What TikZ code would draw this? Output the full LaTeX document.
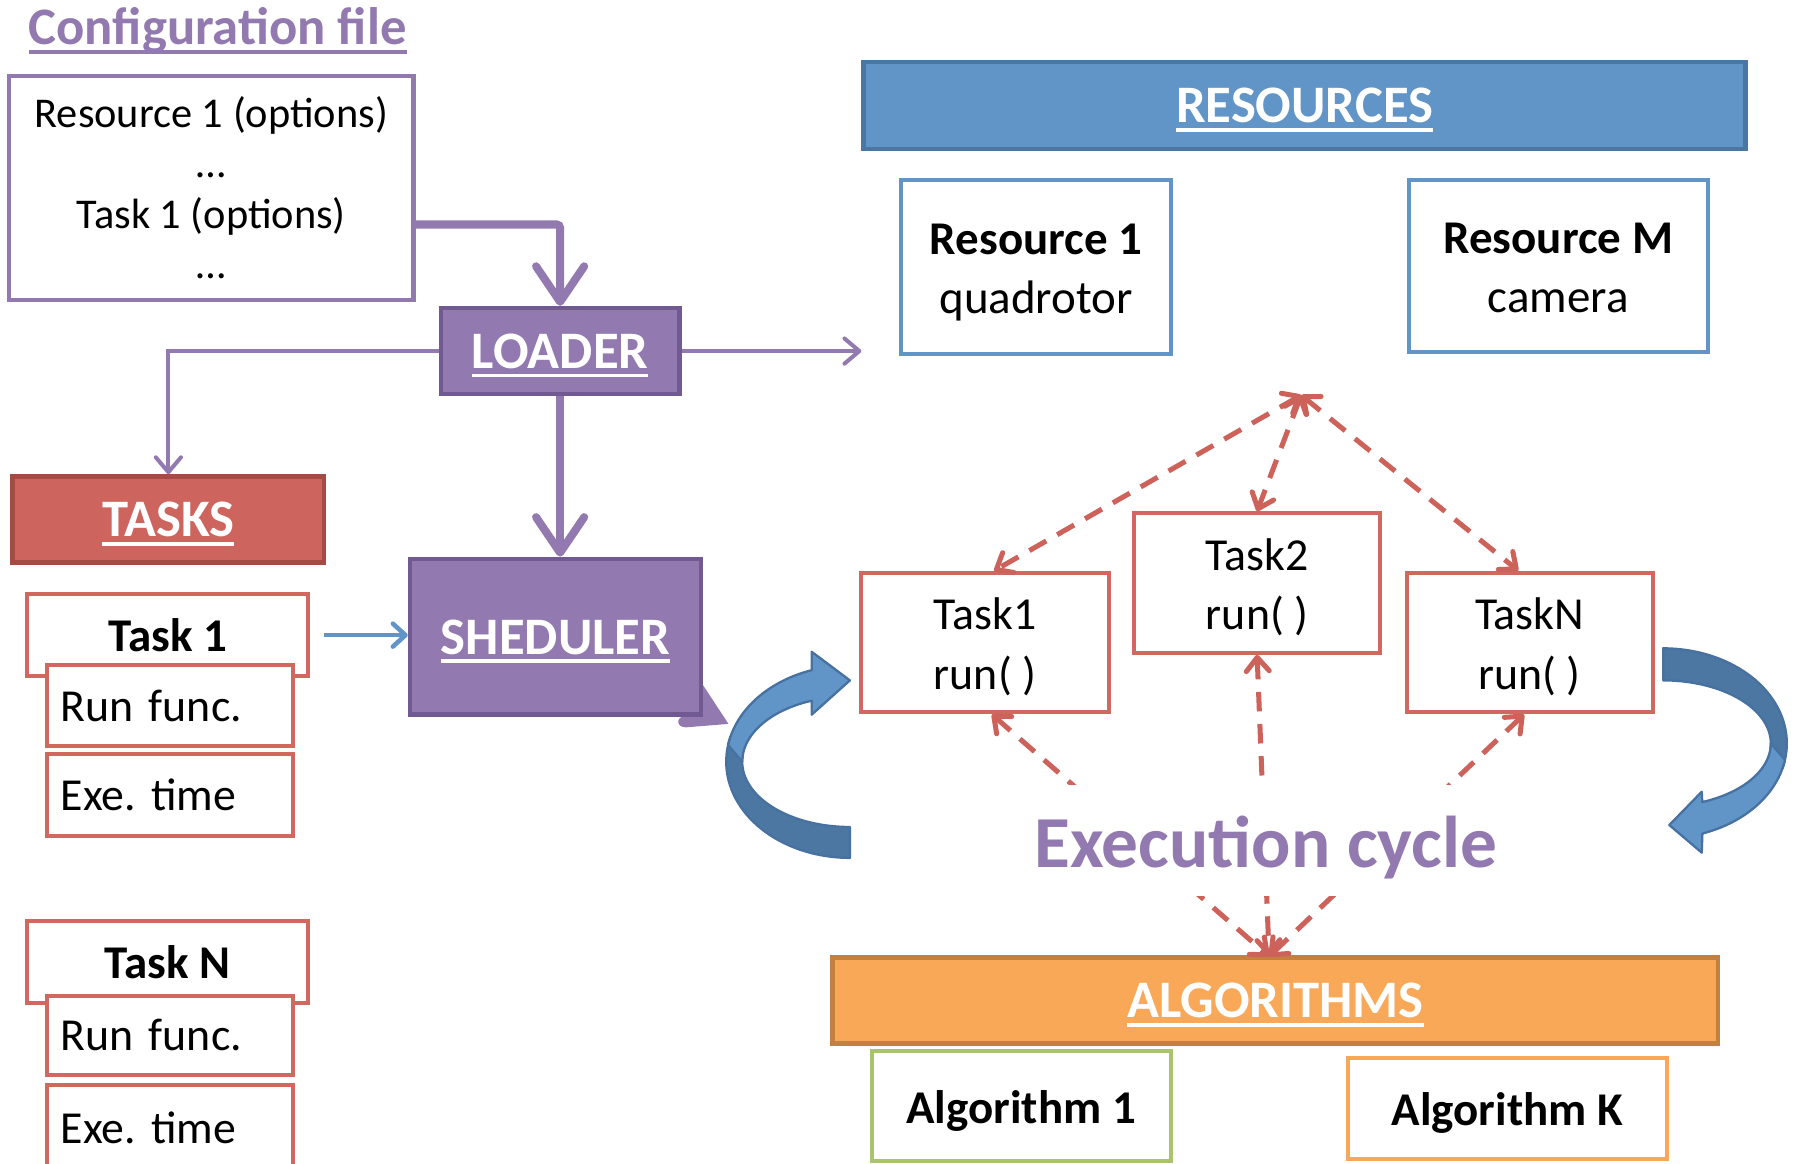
\documentclass[tikz,border=0pt]{standalone}
\usepackage{fontspec}
\setmainfont{Carlito}
\usetikzlibrary{arrows.meta,calc}
\frenchspacing

\definecolor{pfill}{HTML}{9279B0}
\definecolor{pline}{HTML}{715A92}
\definecolor{rfill}{HTML}{CD655E}
\definecolor{rline}{HTML}{A44B46}
\definecolor{rbox}{HTML}{D0685F}
\definecolor{rdash}{HTML}{CD625A}
\definecolor{bfill}{HTML}{6195C8}
\definecolor{bline}{HTML}{4A76A3}
\definecolor{bdark}{HTML}{4B77A2}
\definecolor{bstroke}{HTML}{4671A0}
\definecolor{ofill}{HTML}{F9A857}
\definecolor{oline}{HTML}{C4803F}
\definecolor{gline}{HTML}{A9C46B}

\newcommand{\fs}[2]{\fontsize{#1}{#2}\selectfont}
\newsavebox{\hdrsave}
\newcommand{\hdrtext}[1]{\sbox{\hdrsave}{#1}\leavevmode\rlap{\usebox{\hdrsave}}\rule[-0.17em]{\wd\hdrsave}{0.07em}}
% two centred lines with fixed outer height and depth
\newcommand{\twolines}[2]{\rule{0pt}{38pt}#1\\#2\rule[-8pt]{0pt}{8pt}}

\tikzset{
  hdrbox/.style={draw, line width=4pt, inner sep=0pt, text=white, text height=30pt, text depth=0pt, font=\bfseries\fs{46}{52}},
  whitebox/.style={draw, fill=white, line width=3.5pt, inner sep=0pt},
  twoline/.style={whitebox, align=center, font=\fs{40}{52}},
  algbox/.style={whitebox, text height=30pt, text depth=0pt, font=\bfseries\fs{41}{50}},
  leftbox/.style={whitebox, draw=rbox, minimum width=215pt, inner xsep=12pt, text width=191pt, align=left, font=\fs{40}{48}},
  taskhdr/.style={whitebox, draw=rbox, minimum width=245pt, font=\bfseries\fs{41}{50}},
  pthick/.style={draw=pfill, line width=7pt, rounded corners=3pt, -{Straight Barb[length=31pt,width=42pt,round]}},
  pthin/.style={draw=pfill, line width=3.5pt, -{Straight Barb[length=13pt,width=22pt,round]}},
  blueln/.style={draw=bfill, line width=4pt, -{Straight Barb[length=11pt,width=20pt,round]}},
  dashlink/.style={draw=rdash, line width=4.4pt, dash pattern=on 17pt off 11pt,
    {Straight Barb[length=12pt,width=20pt,round]}-{Straight Barb[length=12pt,width=20pt,round]}},
  loopdark/.style={fill=bdark, draw=bstroke, line width=2pt, line join=round},
  looplight/.style={fill=bfill, draw=bstroke, line width=2pt, line join=round},
}

\begin{document}
\begin{tikzpicture}[x=1pt,y=-1pt]
\useasboundingbox (0,0) rectangle (1568,1016);

% ---- curved loop arrows around the execution cycle ----
\filldraw[loopdark]
  plot[domain=90:195, samples=40] ({742+108*cos(\x)},{665+84*sin(\x)})
  -- plot[domain=185:90, samples=40] ({742+94*cos(\x)},{665+57*sin(\x)}) -- cycle;
\filldraw[looplight]
  plot[domain=190:252, samples=40] ({742+108*cos(\x)},{665+84*sin(\x)})
  -- (708.6,569) -- (742,594) -- (708.6,624)
  -- plot[domain=249.2:180, samples=40] ({742+94*cos(\x)},{665+57*sin(\x)}) -- cycle;

\filldraw[loopdark]
  plot[domain=270:375, samples=40] ({1452+108*cos(\x)},{649+83*sin(\x)})
  -- plot[domain=365:270, samples=40] ({1452+94*cos(\x)},{649+55*sin(\x)}) -- cycle;
\filldraw[looplight]
  plot[domain=370:431.5, samples=40] ({1452+108*cos(\x)},{649+83*sin(\x)})
  -- (1485.7,744.4) -- (1457.4,720.3) -- (1485.7,691.2)
  -- plot[domain=428.7:360, samples=40] ({1452+94*cos(\x)},{649+55*sin(\x)}) -- cycle;

% ---- configuration file ----
\node[anchor=base, text=pfill, font=\bfseries\fs{46}{52}] (cfgtitle) at (190,39) {\hdrtext{Configuration file}};
\node[whitebox, draw=pfill, minimum width=353pt, minimum height=196pt, align=center, font=\fs{37}{44}]
  (cfg) at (184.5,164) {Resource 1 (options)\\…\\Task 1 (options)\\…};

% ---- loader / scheduler ----
\node[hdrbox, fill=pfill, draw=pline, minimum width=208pt, minimum height=75pt] (loader) at (489,306.5) {\hdrtext{LOADER}};
\fill[pfill] (606,597) -- (613,597) -- (636,632) -- (599,635) .. controls (590,635) and (590,626) .. (598,625) -- cycle;
\node[hdrbox, fill=pfill, draw=pline, minimum width=254pt, minimum height=136pt] (sched) at (485,556) {\hdrtext{SHEDULER}};

% ---- tasks ----
\node[hdrbox, fill=rfill, draw=rline, minimum width=272pt, minimum height=75pt] (tasks) at (147,453.5) {\hdrtext{TASKS}};
\node[taskhdr, minimum height=71pt] (t1hdr) at (146.5,554.5) {Task 1};
\node[leftbox, minimum height=70pt] (t1run) at (148.5,616) {Run func.};
\node[leftbox, minimum height=71pt] (t1exe) at (148.5,694) {Exe. time};
\node[taskhdr, minimum height=72pt] (tNhdr) at (146.5,840) {Task N};
\node[leftbox, minimum height=69pt] (tNrun) at (148.5,904) {Run func.};
\node[leftbox, minimum height=75pt] (tNexe) at (148.5,985) {Exe. time};

% ---- resources ----
\node[hdrbox, fill=bfill, draw=bline, minimum width=770pt, minimum height=76pt] (res) at (1139,92) {\hdrtext{RESOURCES}};
\node[twoline, draw=bfill, minimum width=235pt, minimum height=152pt, font=\fs{41}{52}] (res1) at (904.5,233) {\twolines{\textbf{Resource 1}}{quadrotor}};
\node[twoline, draw=bfill, minimum width=261pt, minimum height=150pt, font=\fs{41}{52}] (resM) at (1360.5,232) {\twolines{\textbf{Resource M}}{camera}};

% ---- execution cycle tasks ----
\node[twoline, draw=rbox, minimum width=216pt, minimum height=122pt] (ct1) at (860,561) {\twolines{Task1}{run( )}};
\node[twoline, draw=rbox, minimum width=215pt, minimum height=122pt] (ct2) at (1097.5,509) {\twolines{Task2}{run( )}};
\node[twoline, draw=rbox, minimum width=215pt, minimum height=122pt] (ctN) at (1335.5,561) {\twolines{TaskN}{run( )}};

% ---- algorithms ----
\node[hdrbox, fill=ofill, draw=oline, minimum width=773pt, minimum height=75pt] (alg) at (1113.5,873.5) {\hdrtext{ALGORITHMS}};
\node[algbox, draw=gline, minimum width=261pt, minimum height=96pt] (alg1) at (891.5,966) {Algorithm 1};
\node[algbox, draw=ofill, minimum width=278pt, minimum height=88pt] (algK) at (1316,968) {Algorithm K};

% ---- connectors ----
\draw[pthick] ([yshift=-32pt]cfg.east) -| (loader.north);
\draw[pthin] (loader.west) -| (tasks.north);
\coordinate (ldrend) at (752,306.5);
\draw[pthin] (loader.east) -- (ldrend);
\draw[pthick] (loader.south) -- (loader.south |- sched.north);
\draw[blueln] ([xshift=12pt]t1hdr.east) -- (sched.west |- t1hdr.east);

\coordinate (hub) at (1136,345);
\coordinate (sink) at (1108,835);
\draw[dashlink] (hub) -- ([xshift=8pt]ct1.north);
\draw[dashlink] (hub) -- (ct2.north);
\draw[dashlink] (hub) -- ([xshift=-10pt]ctN.north);
\draw[dashlink] ([xshift=6pt]ct1.south) -- (sink);
\draw[dashlink] (ct2.south) -- (sink);
\draw[dashlink] ([xshift=-5pt]ctN.south) -- (sink);

% ---- cycle label over the lower links ----
\node[fill=white, inner xsep=6pt, inner ysep=0pt, text height=72pt, text depth=25pt, text=pfill,
      font=\bfseries\fs{64}{70}] (cycle) at (1105,733.5) {Execution cycle};
\end{tikzpicture}
\end{document}
